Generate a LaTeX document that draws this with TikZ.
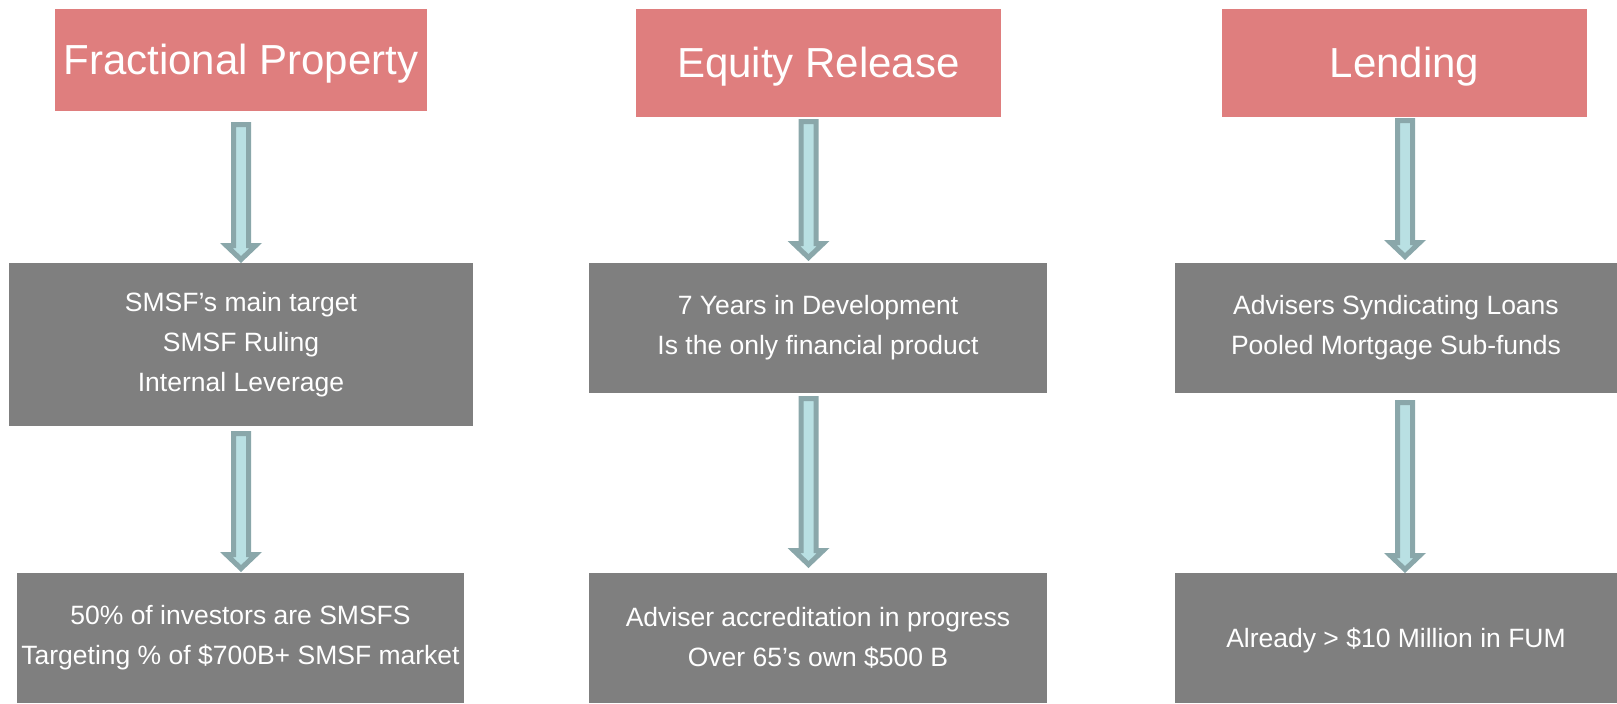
\documentclass[tikz,border=0pt]{standalone}
\usepackage{fontspec}
\setmainfont{Liberation Sans}
\usetikzlibrary{calc}

\definecolor{headred}{RGB}{223,126,126}
\definecolor{boxgray}{RGB}{127,127,127}
\definecolor{arrowfill}{RGB}{185,224,227}
\definecolor{arrowline}{RGB}{138,167,170}

\tikzset{
  titlebox/.style={fill=headred, text=white, inner sep=0pt, outer sep=0pt,
    font=\fontsize{42}{50}\selectfont, execute at begin node={\rule{0pt}{37pt}}},
  infobox/.style={fill=boxgray, text=white, align=center, inner sep=0pt, outer sep=0pt,
    font=\fontsize{26.5}{40}\selectfont, execute at begin node={\rule{0pt}{24.5pt}}},
  flowarrow/.style={draw=arrowline, fill=arrowfill, line width=5pt, line join=miter}
}

% Block arrow pointing down: #1 = top centre, #2 = tip (both outer edges)
\newcommand{\blockdown}[2]{%
  \draw[flowarrow] let \p1=(#1), \p2=(#2) in
    (\x1-7.5pt,\y1-2.5pt) -- (\x1+7.5pt,\y1-2.5pt) -- (\x1+7.5pt,\y2+17.5pt)
    -- (\x1+14.75pt,\y2+17.5pt) -- (\x1,\y2+3.45pt) -- (\x1-14.75pt,\y2+17.5pt)
    -- (\x1-7.5pt,\y2+17.5pt) -- cycle;}

\begin{document}
\begin{tikzpicture}[x=1pt,y=-1pt]
\useasboundingbox (0,0) rectangle (1617,704);

% Column 1
\node[titlebox, minimum width=372pt, minimum height=102pt] (r1) at (241,60) {Fractional Property};
\node[infobox, minimum width=464pt, minimum height=163pt] (g1a) at (241,344.5)
  {SMSF’s main target\\SMSF Ruling\\Internal Leverage};
\node[infobox, minimum width=447pt, minimum height=130pt] (g1b) at (240.5,638)
  {50\% of investors are SMSFS\\Targeting \% of \$700B+ SMSF market};

% Column 2
\node[titlebox, minimum width=365pt, minimum height=108pt] (r2) at (818.5,63) {Equity Release};
\node[infobox, minimum width=458pt, minimum height=130pt] (g2a) at (818,328)
  {7 Years in Development\\Is the only financial product};
\node[infobox, minimum width=458pt, minimum height=130pt] (g2b) at (818,638)
  {Adviser accreditation in progress\\Over 65’s own \$500 B};

% Column 3
\node[titlebox, minimum width=365pt, minimum height=108pt] (r3) at (1404.5,63) {Lending};
\node[infobox, minimum width=442pt, minimum height=130pt] (g3a) at (1396,328)
  {Advisers Syndicating Loans\\Pooled Mortgage Sub-funds};
\node[infobox, minimum width=442pt, minimum height=130pt] (g3b) at (1396,638)
  {Already > \$10 Million in FUM};

% Arrow ends
\coordinate (a1s) at ($(r1.south)+(0,11)$);
\coordinate (a1e) at (a1s |- g1a.north);
\coordinate (b1s) at ($(g1a.south)+(0,5)$);
\coordinate (b1e) at ($(b1s |- g1b.north)+(0,-1)$);

\coordinate (a2s) at ($(r2.south)+(-10,2)$);
\coordinate (a2e) at ($(a2s |- g2a.north)+(0,-2)$);
\coordinate (b2s) at ($(g2a.south)+(-9.5,3)$);
\coordinate (b2e) at ($(b2s |- g2b.north)+(0,-5)$);

\coordinate (a3s) at ($(r3.south)+(0.5,1)$);
\coordinate (a3e) at ($(a3s |- g3a.north)+(0,-3)$);
\coordinate (b3s) at ($(g3a.south)+(9,7)$);
\coordinate (b3e) at (b3s |- g3b.north);

\blockdown{a1s}{a1e}
\blockdown{b1s}{b1e}
\blockdown{a2s}{a2e}
\blockdown{b2s}{b2e}
\blockdown{a3s}{a3e}
\blockdown{b3s}{b3e}
\end{tikzpicture}
\end{document}
